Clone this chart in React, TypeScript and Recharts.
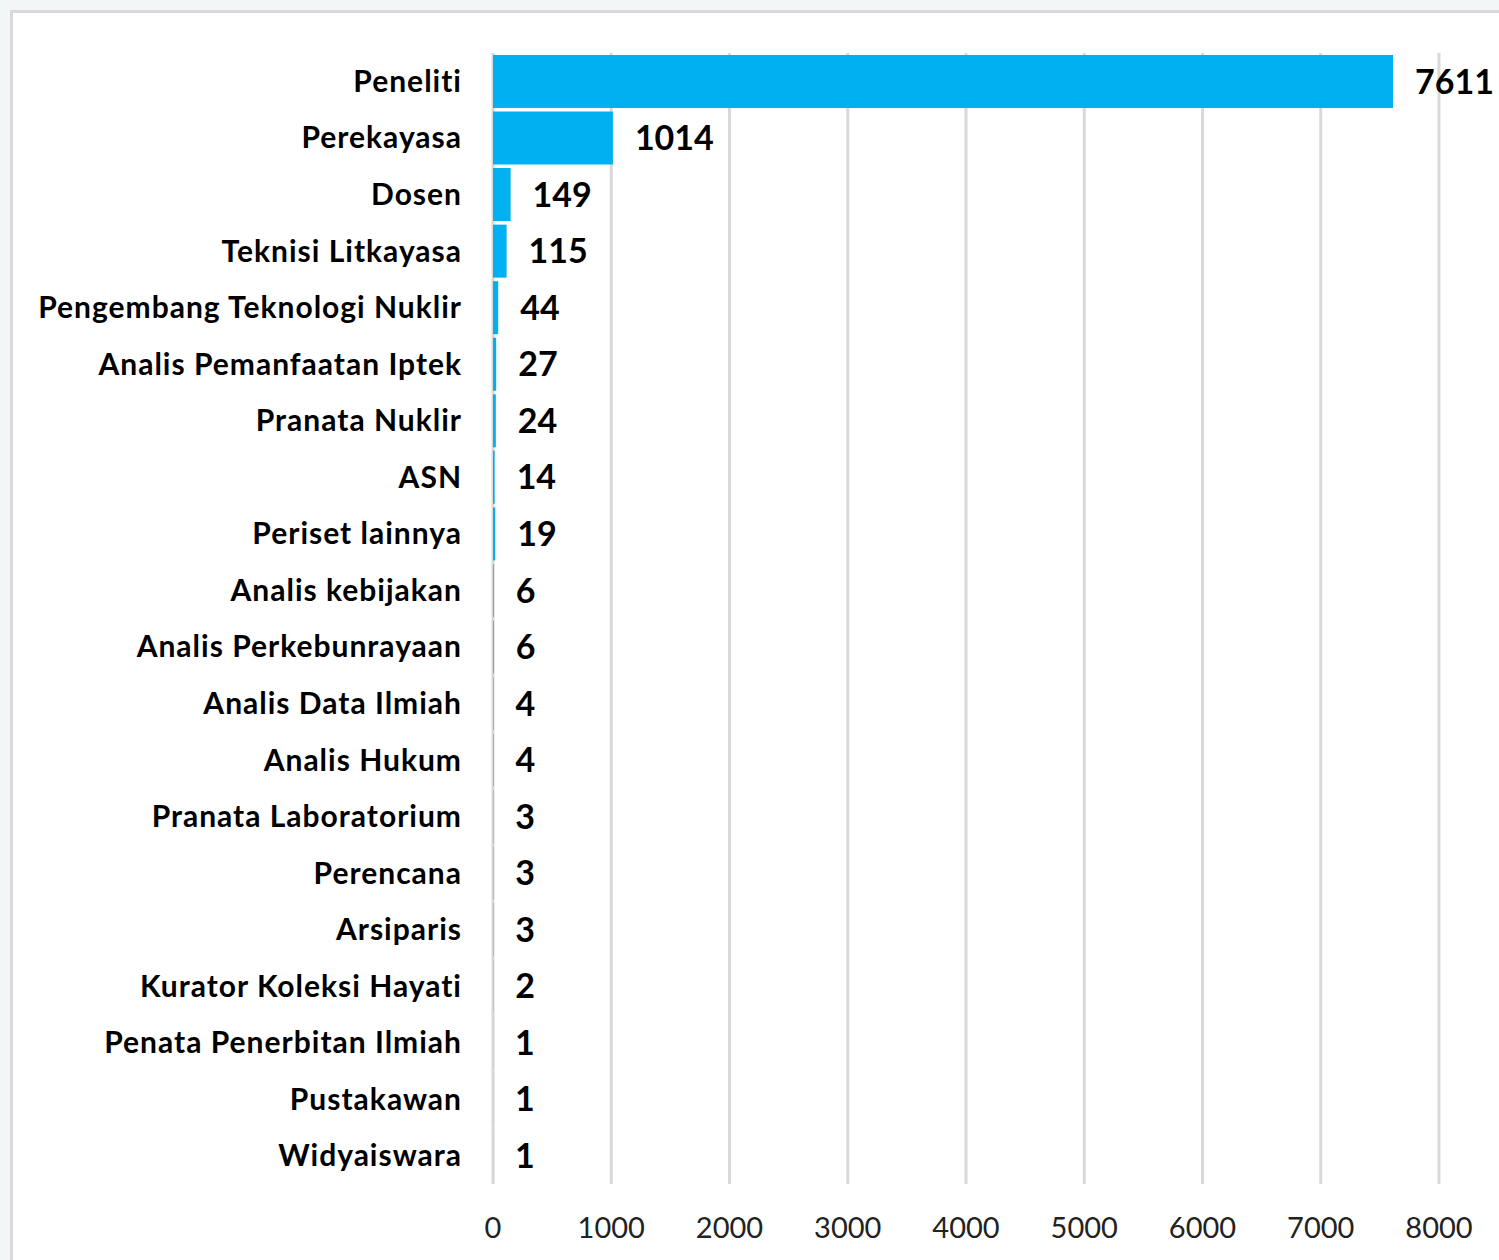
import React from "react";
import { Bar, BarChart, CartesianGrid, LabelList, XAxis, YAxis } from "recharts";

const categories = [
    "Peneliti",
    "Perekayasa",
    "Dosen",
    "Teknisi Litkayasa",
    "Pengembang Teknologi Nuklir",
    "Analis Pemanfaatan Iptek",
    "Pranata Nuklir",
    "ASN",
    "Periset lainnya",
    "Analis kebijakan",
    "Analis Perkebunrayaan",
    "Analis Data Ilmiah",
    "Analis Hukum",
    "Pranata Laboratorium",
    "Perencana",
    "Arsiparis",
    "Kurator Koleksi Hayati",
    "Penata Penerbitan Ilmiah",
    "Pustakawan",
    "Widyaiswara",
];

const counts = [7611, 1014, 149, 115, 44, 27, 24, 14, 19, 6, 6, 4, 4, 3, 3, 3, 2, 1, 1, 1];

const xTicks = [0, 1000, 2000, 3000, 4000, 5000, 6000, 7000, 8000];

const data = categories.map((name, i) => ({ name, value: counts[i] }));

const FONT = "Lato, 'Open Sans', sans-serif";

export default function App() {
    return (
        <div style={{ position: "absolute", left: 0, top: 0, width: 1499, height: 1260, background: "#f2f6f7", overflow: "hidden" }}>
            {/* white chart frame */}
            <div
                style={{
                    position: "absolute",
                    left: 10,
                    top: 10,
                    width: 1520,
                    height: 1300,
                    background: "#ffffff",
                    border: "3px solid #d9d9d9",
                }}
            />
            <div style={{ position: "absolute", left: 0, top: 0 }}>
                <BarChart
                    width={1499}
                    height={1260}
                    data={data}
                    layout="vertical"
                    margin={{ top: 53, right: 60, bottom: 0, left: 0 }}
                    barCategoryGap={2}
                >
                    <CartesianGrid horizontal={false} stroke="#d9d9d9" strokeWidth={3} />
                    <XAxis
                        type="number"
                        domain={[0, 8000]}
                        ticks={xTicks}
                        height={76}
                        axisLine={false}
                        tickLine={false}
                        tickMargin={27}
                        tick={{ fill: "#222", fontSize: 29, fontFamily: FONT }}
                    />
                    <YAxis
                        type="category"
                        dataKey="name"
                        width={493}
                        axisLine={false}
                        tickLine={false}
                        tickMargin={25}
                        interval={0}
                        tick={{ fill: "#000", fontSize: 30, fontWeight: 700, fontFamily: FONT, letterSpacing: 1 }}
                    />
                    <Bar dataKey="value" fill="#00b0f0" isAnimationActive={false}>
                        <LabelList
                            dataKey="value"
                            position="right"
                            offset={22}
                            fill="#000"
                            fontSize={34}
                            fontWeight={700}
                            fontFamily={FONT}
                        />
                    </Bar>
                </BarChart>
            </div>
        </div>
    );
}
